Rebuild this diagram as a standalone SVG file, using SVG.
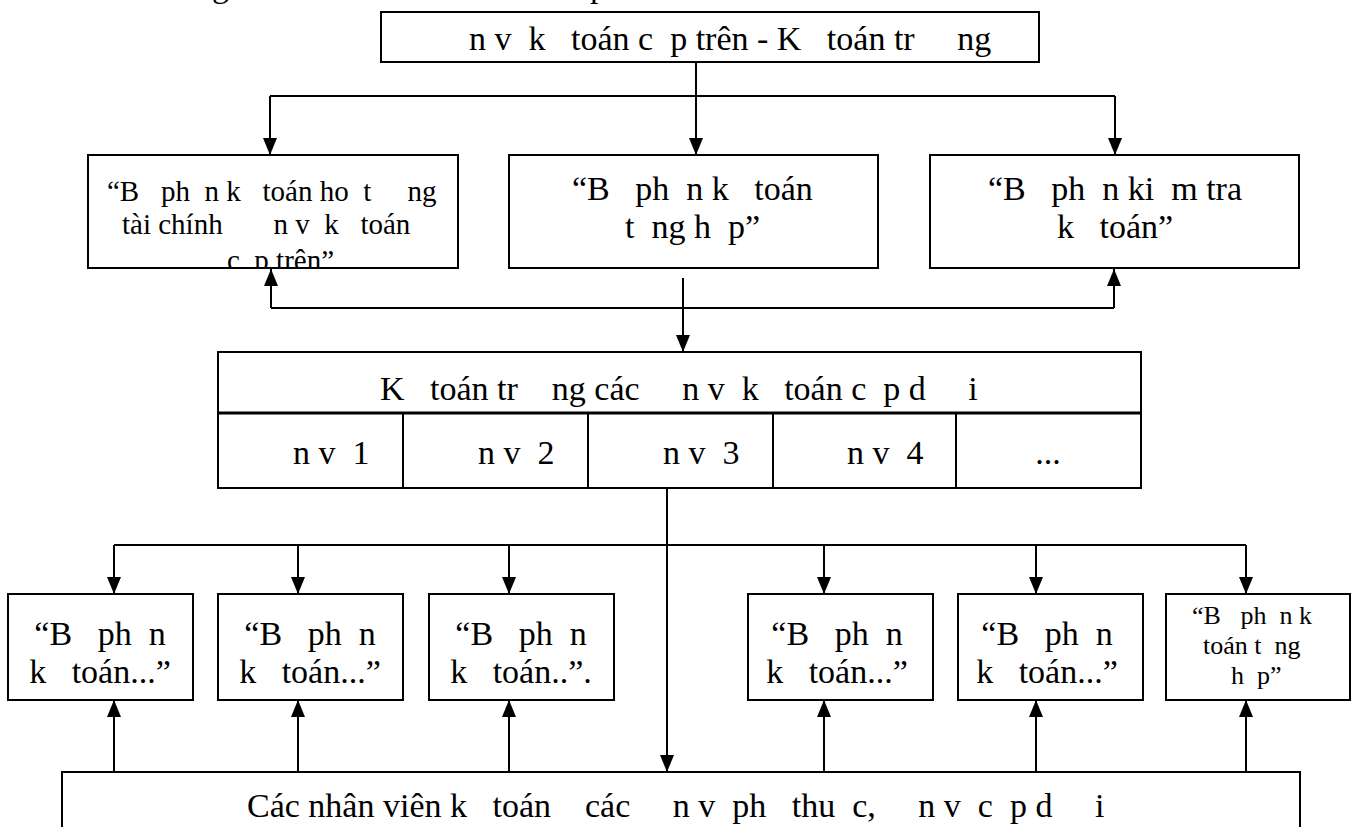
<svg xmlns="http://www.w3.org/2000/svg" width="1362" height="827" viewBox="0 0 1362 827">
  <style>
    .box { fill: #ffffff; stroke: #000000; stroke-width: 2; }
    .ln { fill: none; stroke: #000000; stroke-width: 2; }
    .up, .dn { marker-end: url(#tip); }
    text { font-family: "Liberation Serif", "Times New Roman", serif; fill: #000000; white-space: pre; }
    .t34 { font-size: 34px; }
    .t29 { font-size: 29px; }
    .t26 { font-size: 26px; }
    .mid { text-anchor: middle; }
  </style>
  <defs>
    <marker id="tip" markerWidth="17" markerHeight="14" refX="17" refY="7" orient="auto" markerUnits="userSpaceOnUse" viewBox="0 0 17 14">
      <path d="M0,0 L17,7 L0,14 Z" fill="#000000"/>
    </marker>
    <clipPath id="clip-finance">
      <rect x="88" y="155" width="370" height="112"/>
    </clipPath>
    <clipPath id="clip-page">
      <rect x="0" y="0" width="1362" height="827"/>
    </clipPath>
  </defs>

  <rect width="1362" height="827" fill="#ffffff"/>

  <!-- descenders of the heading line above the chart -->
  <text class="t34" x="212" y="-3">g</text>
  <text class="t34" x="590" y="-3">p</text>

  <!-- connectors -->
  <g id="connectors" class="ln">
    <!-- top box to second row -->
    <line x1="270" y1="96" x2="1115" y2="96"/>
    <line class="dn" x1="270" y1="96" x2="270" y2="155"/>
    <line class="dn" x1="696" y1="62" x2="696" y2="155"/>
    <line class="dn" x1="1115" y1="96" x2="1115" y2="155"/>
    <!-- second row feedback and link down -->
    <line x1="271" y1="308" x2="1114" y2="308"/>
    <line class="up" x1="271" y1="308" x2="271" y2="269"/>
    <line class="up" x1="1114" y1="308" x2="1114" y2="269"/>
    <line class="dn" x1="683" y1="278" x2="683" y2="352"/>
    <!-- units table to third row -->
    <line x1="114" y1="545" x2="1246" y2="545"/>
    <line class="dn" x1="114" y1="545" x2="114" y2="594"/>
    <line class="dn" x1="298" y1="545" x2="298" y2="594"/>
    <line class="dn" x1="509" y1="545" x2="509" y2="594"/>
    <line class="dn" x1="824" y1="545" x2="824" y2="594"/>
    <line class="dn" x1="1036" y1="545" x2="1036" y2="594"/>
    <line class="dn" x1="1246" y1="545" x2="1246" y2="594"/>
    <!-- long link from the table to the staff box -->
    <line class="dn" x1="667" y1="488" x2="667" y2="772"/>
    <!-- staff box up to third row -->
    <line class="up" x1="114" y1="772" x2="114" y2="700"/>
    <line class="up" x1="298" y1="772" x2="298" y2="700"/>
    <line class="up" x1="509" y1="772" x2="509" y2="700"/>
    <line class="up" x1="824" y1="772" x2="824" y2="700"/>
    <line class="up" x1="1036" y1="772" x2="1036" y2="700"/>
    <line class="up" x1="1246" y1="772" x2="1246" y2="700"/>
  </g>

  <!-- top: chief accountant -->
  <g id="n-top">
    <rect class="box" x="381" y="12" width="658" height="50"/>
    <text class="t34" x="469" y="50">n v  k   toán c  p trên - K   toán tr     ng</text>
  </g>

  <!-- second row -->
  <g id="n-finance">
    <rect class="box" x="88" y="155" width="370" height="113"/>
    <g clip-path="url(#clip-finance)">
      <text class="t29" x="107" y="201">“B   ph  n k   toán ho  t     ng</text>
      <text class="t29" x="122" y="234">tài chính       n v  k   toán</text>
      <text class="t29" x="227" y="270">c  p trên”</text>
    </g>
  </g>
  <g id="n-general">
    <rect class="box" x="509" y="155" width="369" height="113"/>
    <text class="t34" x="572" y="200">“B   ph  n k   toán</text>
    <text class="t34" x="625" y="238">t  ng h  p”</text>
  </g>
  <g id="n-audit">
    <rect class="box" x="930" y="155" width="369" height="113"/>
    <text class="t34" x="988" y="200">“B   ph  n ki  m tra</text>
    <text class="t34" x="1057" y="238">k   toán”</text>
  </g>

  <!-- units table -->
  <g id="n-units">
    <rect class="box" x="218" y="352" width="923" height="136"/>
    <line x1="218" y1="413" x2="1141" y2="413" stroke="#000000" stroke-width="3"/>
    <line class="ln" x1="403" y1="413" x2="403" y2="488"/>
    <line class="ln" x1="588" y1="413" x2="588" y2="488"/>
    <line class="ln" x1="773" y1="413" x2="773" y2="488"/>
    <line class="ln" x1="956" y1="413" x2="956" y2="488"/>
    <text class="t34" x="380" y="400">K   toán tr    ng các     n v  k   toán c  p d     i</text>
    <text class="t34" x="293" y="464">n v  1</text>
    <text class="t34" x="478" y="464">n v  2</text>
    <text class="t34" x="663" y="464">n v  3</text>
    <text class="t34" x="847" y="464">n v  4</text>
    <text class="t34 mid" x="1048" y="464">...</text>
  </g>

  <!-- third row -->
  <g id="n-dept1">
    <rect class="box" x="8" y="594" width="185" height="106"/>
    <text class="t34 mid" x="100" y="645">“B   ph  n</text>
    <text class="t34 mid" x="100" y="683">k   toán...”</text>
  </g>
  <g id="n-dept2">
    <rect class="box" x="218" y="594" width="185" height="106"/>
    <text class="t34 mid" x="310" y="645">“B   ph  n</text>
    <text class="t34 mid" x="310" y="683">k   toán...”</text>
  </g>
  <g id="n-dept3">
    <rect class="box" x="429" y="594" width="185" height="106"/>
    <text class="t34 mid" x="521" y="645">“B   ph  n</text>
    <text class="t34 mid" x="521" y="683">k   toán..”.</text>
  </g>
  <g id="n-dept4">
    <rect class="box" x="748" y="594" width="185" height="106"/>
    <text class="t34 mid" x="837" y="645">“B   ph  n</text>
    <text class="t34 mid" x="837" y="683">k   toán...”</text>
  </g>
  <g id="n-dept5">
    <rect class="box" x="958" y="594" width="185" height="106"/>
    <text class="t34 mid" x="1047" y="645">“B   ph  n</text>
    <text class="t34 mid" x="1047" y="683">k   toán...”</text>
  </g>
  <g id="n-dept6">
    <rect class="box" x="1166" y="594" width="184" height="106"/>
    <text class="t26" x="1192" y="624">“B   ph  n k</text>
    <text class="t26" x="1203" y="654">toán t  ng</text>
    <text class="t26" x="1231" y="684">h  p”</text>
  </g>

  <!-- bottom: staff -->
  <g id="n-staff">
    <rect class="box" x="62" y="772" width="1238" height="70"/>
    <text class="t34" x="247" y="817">Các nhân viên k   toán    các     n v  ph   thu  c,     n v  c  p d     i</text>
  </g>
</svg>
